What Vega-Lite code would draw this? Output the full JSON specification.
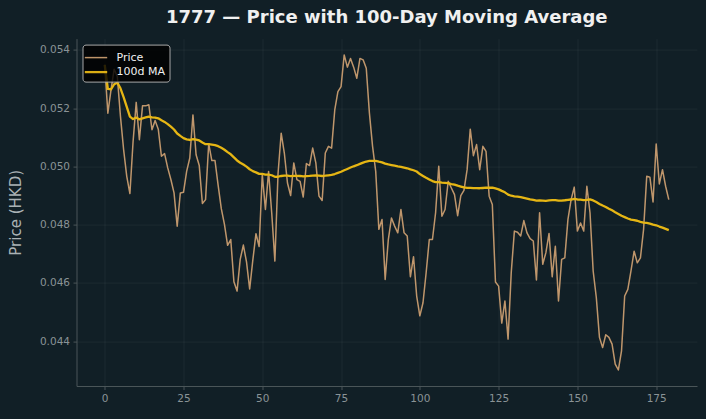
{
  "$schema": "https://vega.github.io/schema/vega-lite/v6.json",
  "width": 620.5,
  "height": 347.4,
  "autosize": {"type": "none"},
  "padding": {"left": 76.5, "top": 38.6, "right": 9, "bottom": 33},
  "background": "#111f26",
  "config": {
    "view": {"stroke": null},
    "font": "DejaVu Sans",
    "axis": {
      "domainColor": "#4a5558",
      "tickColor": "#4a5558",
      "tickSize": 3.5,
      "labelColor": "#8a9396",
      "labelFontSize": 10.5,
      "labelFont": "DejaVu Sans",
      "gridColor": "#ffffff",
      "gridOpacity": 0.05,
      "titleColor": "#aab2b5",
      "titleFont": "DejaVu Sans",
      "titleFontSize": 15,
      "titleFontWeight": "normal",
      "labelPadding": 3.5
    },
    "legend": {
      "orient": "top-left",
      "offset": 6,
      "fillColor": "rgba(0,0,0,0.82)",
      "strokeColor": "#a8a8a8",
      "cornerRadius": 3,
      "padding": 4,
      "labelColor": "#f0f0f0",
      "labelFontSize": 11,
      "labelFont": "DejaVu Sans",
      "labelOffset": 11,
      "symbolType": "M-1.4,0H1.4",
      "symbolSize": 256,
      "rowPadding": 0
    }
  },
  "title": {
    "text": "1777 — Price with 100-Day Moving Average",
    "font": "DejaVu Sans",
    "fontSize": 18,
    "fontWeight": "bold",
    "color": "#f0f0f0",
    "anchor": "middle",
    "offset": 12
  },
  "data": {
    "values": [
      {"day": 0, "Price": 0.05349}, {"day": 1, "Price": 0.05183}, {"day": 2, "Price": 0.05263}, {"day": 3, "Price": 0.05334},
      {"day": 4, "Price": 0.05309}, {"day": 5, "Price": 0.05172}, {"day": 6, "Price": 0.05058}, {"day": 7, "Price": 0.04966},
      {"day": 8, "Price": 0.04907}, {"day": 9, "Price": 0.05085}, {"day": 10, "Price": 0.0522}, {"day": 11, "Price": 0.05092},
      {"day": 12, "Price": 0.05208}, {"day": 13, "Price": 0.05208}, {"day": 14, "Price": 0.05212}, {"day": 15, "Price": 0.05126},
      {"day": 16, "Price": 0.05158}, {"day": 17, "Price": 0.05128}, {"day": 18, "Price": 0.05035}, {"day": 19, "Price": 0.05044},
      {"day": 20, "Price": 0.04995}, {"day": 21, "Price": 0.04955}, {"day": 22, "Price": 0.04909}, {"day": 23, "Price": 0.04795},
      {"day": 24, "Price": 0.04909}, {"day": 25, "Price": 0.04911}, {"day": 26, "Price": 0.04983}, {"day": 27, "Price": 0.05029},
      {"day": 28, "Price": 0.05177}, {"day": 29, "Price": 0.0504}, {"day": 30, "Price": 0.05003}, {"day": 31, "Price": 0.04873},
      {"day": 32, "Price": 0.04886}, {"day": 33, "Price": 0.05078}, {"day": 34, "Price": 0.0502}, {"day": 35, "Price": 0.0502},
      {"day": 36, "Price": 0.04935}, {"day": 37, "Price": 0.04855}, {"day": 38, "Price": 0.04801}, {"day": 39, "Price": 0.04729},
      {"day": 40, "Price": 0.04749}, {"day": 41, "Price": 0.04604}, {"day": 42, "Price": 0.04572}, {"day": 43, "Price": 0.04681},
      {"day": 44, "Price": 0.0473}, {"day": 45, "Price": 0.04672}, {"day": 46, "Price": 0.04579}, {"day": 47, "Price": 0.04678},
      {"day": 48, "Price": 0.04769}, {"day": 49, "Price": 0.04725}, {"day": 50, "Price": 0.04972}, {"day": 51, "Price": 0.04852},
      {"day": 52, "Price": 0.04983}, {"day": 53, "Price": 0.0484}, {"day": 54, "Price": 0.04675}, {"day": 55, "Price": 0.04975},
      {"day": 56, "Price": 0.05114}, {"day": 57, "Price": 0.05046}, {"day": 58, "Price": 0.04943}, {"day": 59, "Price": 0.049},
      {"day": 60, "Price": 0.05012}, {"day": 61, "Price": 0.04955}, {"day": 62, "Price": 0.04949}, {"day": 63, "Price": 0.04895},
      {"day": 64, "Price": 0.0501}, {"day": 65, "Price": 0.05003}, {"day": 66, "Price": 0.05063}, {"day": 67, "Price": 0.05012},
      {"day": 68, "Price": 0.04898}, {"day": 69, "Price": 0.04883}, {"day": 70, "Price": 0.05046}, {"day": 71, "Price": 0.05069},
      {"day": 72, "Price": 0.05063}, {"day": 73, "Price": 0.05194}, {"day": 74, "Price": 0.05257}, {"day": 75, "Price": 0.05274},
      {"day": 76, "Price": 0.05383}, {"day": 77, "Price": 0.05341}, {"day": 78, "Price": 0.05371}, {"day": 79, "Price": 0.05341},
      {"day": 80, "Price": 0.05303}, {"day": 81, "Price": 0.05371}, {"day": 82, "Price": 0.05366}, {"day": 83, "Price": 0.05337},
      {"day": 84, "Price": 0.05183}, {"day": 85, "Price": 0.05069}, {"day": 86, "Price": 0.04983}, {"day": 87, "Price": 0.04784},
      {"day": 88, "Price": 0.04818}, {"day": 89, "Price": 0.04612}, {"day": 90, "Price": 0.04749}, {"day": 91, "Price": 0.04823},
      {"day": 92, "Price": 0.04795}, {"day": 93, "Price": 0.04772}, {"day": 94, "Price": 0.04852}, {"day": 95, "Price": 0.04772},
      {"day": 96, "Price": 0.04761}, {"day": 97, "Price": 0.04621}, {"day": 98, "Price": 0.0469}, {"day": 99, "Price": 0.04555},
      {"day": 100, "Price": 0.04487}, {"day": 101, "Price": 0.04532}, {"day": 102, "Price": 0.04635}, {"day": 103, "Price": 0.04749},
      {"day": 104, "Price": 0.04749}, {"day": 105, "Price": 0.04841}, {"day": 106, "Price": 0.05001}, {"day": 107, "Price": 0.04829},
      {"day": 108, "Price": 0.04852}, {"day": 109, "Price": 0.04949}, {"day": 110, "Price": 0.04926}, {"day": 111, "Price": 0.04903},
      {"day": 112, "Price": 0.04831}, {"day": 113, "Price": 0.049}, {"day": 114, "Price": 0.04918}, {"day": 115, "Price": 0.04989},
      {"day": 116, "Price": 0.05128}, {"day": 117, "Price": 0.05037}, {"day": 118, "Price": 0.05075}, {"day": 119, "Price": 0.04989},
      {"day": 120, "Price": 0.05069}, {"day": 121, "Price": 0.05052}, {"day": 122, "Price": 0.04898}, {"day": 123, "Price": 0.04869},
      {"day": 124, "Price": 0.04603}, {"day": 125, "Price": 0.04589}, {"day": 126, "Price": 0.04462}, {"day": 127, "Price": 0.04538},
      {"day": 128, "Price": 0.04407}, {"day": 129, "Price": 0.04635}, {"day": 130, "Price": 0.04778}, {"day": 131, "Price": 0.04774},
      {"day": 132, "Price": 0.04761}, {"day": 133, "Price": 0.04814}, {"day": 134, "Price": 0.04772}, {"day": 135, "Price": 0.04752},
      {"day": 136, "Price": 0.04744}, {"day": 137, "Price": 0.0461}, {"day": 138, "Price": 0.04841}, {"day": 139, "Price": 0.04664},
      {"day": 140, "Price": 0.04704}, {"day": 141, "Price": 0.0477}, {"day": 142, "Price": 0.04621}, {"day": 143, "Price": 0.04726},
      {"day": 144, "Price": 0.04538}, {"day": 145, "Price": 0.04681}, {"day": 146, "Price": 0.04686}, {"day": 147, "Price": 0.04818},
      {"day": 148, "Price": 0.04886}, {"day": 149, "Price": 0.04929}, {"day": 150, "Price": 0.04778}, {"day": 151, "Price": 0.04806},
      {"day": 152, "Price": 0.04778}, {"day": 153, "Price": 0.04932}, {"day": 154, "Price": 0.04841}, {"day": 155, "Price": 0.04641},
      {"day": 156, "Price": 0.0455}, {"day": 157, "Price": 0.04413}, {"day": 158, "Price": 0.04378}, {"day": 159, "Price": 0.04422},
      {"day": 160, "Price": 0.04413}, {"day": 161, "Price": 0.0439}, {"day": 162, "Price": 0.04321}, {"day": 163, "Price": 0.04301},
      {"day": 164, "Price": 0.04367}, {"day": 165, "Price": 0.04555}, {"day": 166, "Price": 0.04578}, {"day": 167, "Price": 0.04641},
      {"day": 168, "Price": 0.04709}, {"day": 169, "Price": 0.04669}, {"day": 170, "Price": 0.04686}, {"day": 171, "Price": 0.04784},
      {"day": 172, "Price": 0.04966}, {"day": 173, "Price": 0.04963}, {"day": 174, "Price": 0.04878}, {"day": 175, "Price": 0.05077},
      {"day": 176, "Price": 0.0494}, {"day": 177, "Price": 0.04989}, {"day": 178, "Price": 0.04932}, {"day": 179, "Price": 0.04886}
    ]
  },
  "transform": [
    {
      "window": [{"op": "mean", "field": "Price", "as": "100d MA"}],
      "frame": [-99, 0],
      "sort": [{"field": "day", "order": "ascending"}]
    },
    {"fold": ["Price", "100d MA"], "as": ["series", "value"]}
  ],
  "encoding": {
    "x": {
      "field": "day",
      "type": "quantitative",
      "scale": {"domain": [-8.95, 187.95], "nice": false, "zero": false},
      "axis": {"values": [0, 25, 50, 75, 100, 125, 150, 175], "title": null, "grid": true}
    },
    "y": {
      "field": "value",
      "type": "quantitative",
      "scale": {"domain": [0.04246, 0.05439], "nice": false, "zero": false},
      "axis": {
        "values": [0.044, 0.046, 0.048, 0.05, 0.052, 0.054],
        "format": ".3f",
        "title": "Price (HKD)",
        "titlePadding": 16,
        "grid": true
      }
    },
    "color": {
      "field": "series",
      "type": "nominal",
      "scale": {"domain": ["Price", "100d MA"], "range": ["#c99d70", "#e6b614"]},
      "legend": {"title": null}
    },
    "strokeWidth": {
      "field": "series",
      "type": "nominal",
      "scale": {"domain": ["Price", "100d MA"], "range": [1.5, 2.3]},
      "legend": {"title": null}
    }
  },
  "layer": [
    {
      "transform": [{"filter": "datum.series === 'Price'"}],
      "mark": {"type": "line", "strokeJoin": "round", "opacity": 0.95}
    },
    {
      "transform": [{"filter": "datum.series === '100d MA'"}],
      "mark": {"type": "line", "strokeJoin": "round"}
    }
  ]
}
